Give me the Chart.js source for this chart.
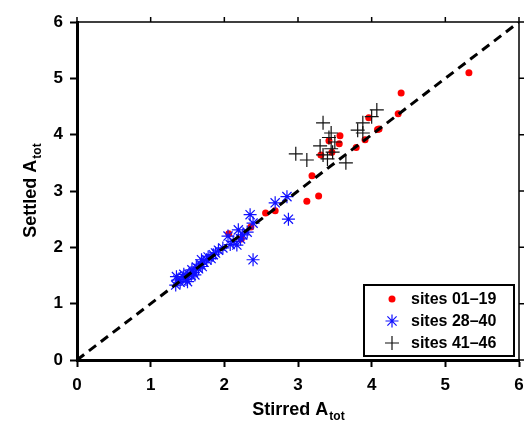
<!DOCTYPE html>
<html>
<head>
<meta charset="utf-8">
<script src="https://cdn.jsdelivr.net/npm/chart.js@4"></script>
<style>
	html, body { margin: 0; padding: 0; background: #fff; }
	#wrap { width: 529px; height: 428px; }
</style>
</head>
<body>
<div id="wrap"><canvas id="scatter"></canvas></div>
<script>
// values (stirred, settled)
const sites01to19 = [
	[5.32, 5.10], [4.40, 4.74], [4.36, 4.37], [4.08, 4.09], [4.10, 4.10],
	[3.91, 3.91], [3.96, 4.30], [3.79, 3.77], [3.57, 3.98], [3.56, 3.84],
	[3.42, 3.89], [3.46, 3.69], [3.31, 3.64], [3.19, 3.27], [3.28, 2.91],
	[3.12, 2.82], [2.56, 2.61], [2.69, 2.65], [2.06, 2.24], [2.36, 2.36],
	[2.23, 2.15]
];
const sites28to40 = [
	[1.34, 1.33], [1.37, 1.42], [1.35, 1.48], [1.40, 1.38], [1.44, 1.47],
	[1.48, 1.43], [1.50, 1.39], [1.52, 1.52], [1.56, 1.60], [1.58, 1.55],
	[1.60, 1.51], [1.62, 1.65], [1.65, 1.62], [1.68, 1.70], [1.69, 1.78],
	[1.72, 1.74], [1.76, 1.78], [1.78, 1.83], [1.82, 1.80], [1.85, 1.87],
	[1.88, 1.90], [1.92, 1.95], [1.98, 1.99], [2.05, 2.20], [2.08, 2.05],
	[2.12, 2.10], [2.17, 2.04], [2.19, 2.31], [2.22, 2.15], [2.25, 2.22],
	[2.31, 2.27], [2.35, 2.58], [2.39, 2.43], [2.39, 1.78], [2.69, 2.79],
	[2.85, 2.90], [2.87, 2.50], [1.55, 1.50], [1.45, 1.52], [1.70, 1.66]
];
const sites41to46 = [
	[3.34, 4.21], [3.45, 4.03], [3.30, 3.80], [2.97, 3.66], [3.12, 3.55],
	[3.34, 3.64], [3.47, 3.69], [3.40, 3.57], [3.65, 3.50], [3.50, 3.87],
	[3.42, 3.95], [3.81, 4.08], [3.88, 4.03], [3.88, 4.21], [4.00, 4.32],
	[4.07, 4.44], [3.45, 3.75]
];
const oneToOne = [[0, 0], [6, 6]];
const legendLabels = ['sites 01\u201319', 'sites 28\u201340', 'sites 41\u201346'];
const tickValues = [0, 1, 2, 3, 4, 5, 6];

const FONT = '"Liberation Sans", Arial, Helvetica, sans-serif';
const toXY = arr => arr.map(p => ({ x: p[0], y: p[1] }));

// top/right frame, axis titles with subscript, boxed legend
const extras = {
	id: 'extras',
	afterDraw(chart) {
		const { ctx, chartArea: a, scales } = chart;
		ctx.save();
		ctx.strokeStyle = '#000';
		ctx.lineWidth = 1.5;
		ctx.beginPath();
		ctx.moveTo(a.left, a.top); ctx.lineTo(a.right, a.top);
		ctx.moveTo(a.right, a.top); ctx.lineTo(a.right, a.bottom);
		tickValues.forEach(v => {
			const px = scales.x.getPixelForValue(v);
			ctx.moveTo(px, a.top); ctx.lineTo(px, a.top - 5);
			const py = scales.y.getPixelForValue(v);
			ctx.moveTo(a.right, py); ctx.lineTo(a.right + 5, py);
		});
		ctx.stroke();

		// axis titles
		const drawTitle = (main, sub) => {
			ctx.font = 'bold 18px ' + FONT;
			const w1 = ctx.measureText(main).width;
			ctx.font = 'bold 12px ' + FONT;
			const w2 = ctx.measureText(sub).width;
			const x0 = -(w1 + w2) / 2;
			ctx.fillStyle = '#000';
			ctx.textBaseline = 'alphabetic';
			ctx.textAlign = 'left';
			ctx.font = 'bold 18px ' + FONT;
			ctx.fillText(main, x0, 0);
			ctx.font = 'bold 12px ' + FONT;
			ctx.fillText(sub, x0 + w1 + 1, 5);
		};
		ctx.save();
		ctx.translate((a.left + a.right) / 2, 415);
		drawTitle('Stirred A', 'tot');
		ctx.restore();
		ctx.save();
		ctx.translate(36, (a.top + a.bottom) / 2);
		ctx.rotate(-Math.PI / 2);
		drawTitle('Settled A', 'tot');
		ctx.restore();

		// legend box
		const bx = 364, by = 285, bw = 150, bh = 71;
		ctx.fillStyle = '#fff';
		ctx.fillRect(bx, by, bw, bh);
		ctx.lineWidth = 2;
		ctx.strokeRect(bx, by, bw, bh);
		const rows = [299, 321, 343];
		chart.data.datasets.slice(0, 3).forEach((ds, i) => {
			const cx = 392, cy = rows[i];
			ctx.save();
			ctx.lineWidth = ds.borderWidth;
			ctx.strokeStyle = ds.borderColor;
			ctx.fillStyle = ds.backgroundColor;
			Chart.helpers.drawPoint(ctx, {
				pointStyle: ds.pointStyle,
				radius: ds.pointRadius,
				borderWidth: ds.borderWidth
			}, cx, cy);
			ctx.restore();
			ctx.fillStyle = '#000';
			ctx.font = 'bold 16px ' + FONT;
			ctx.textBaseline = 'middle';
			ctx.textAlign = 'left';
			ctx.fillText(legendLabels[i], 411, cy + 1);
		});
		ctx.restore();
	}
};

const axisCommon = {
	type: 'linear',
	min: 0,
	max: 6,
	border: { display: true, color: '#000', width: 3 },
	grid: {
		display: true,
		drawOnChartArea: false,
		drawTicks: true,
		tickLength: 7,
		tickWidth: 2,
		tickColor: '#000'
	},
	ticks: {
		stepSize: 1,
		color: '#000',
		font: { family: FONT, size: 17, weight: 'bold' }
	}
};

new Chart(document.getElementById('scatter'), {
	type: 'scatter',
	data: {
		datasets: [
			{
				label: legendLabels[0],
				data: toXY(sites01to19),
				pointStyle: 'circle',
				pointRadius: 3.5,
				borderWidth: 0,
				borderColor: '#ff0000',
				backgroundColor: '#ff0000',
				order: 3
			},
			{
				label: legendLabels[1],
				data: toXY(sites28to40),
				pointStyle: 'star',
				pointRadius: 6.5,
				borderWidth: 1.2,
				borderColor: '#1010ff',
				backgroundColor: '#1010ff',
				order: 2
			},
			{
				label: legendLabels[2],
				data: toXY(sites41to46),
				pointStyle: 'cross',
				pointRadius: 7,
				borderWidth: 1.2,
				borderColor: '#111',
				backgroundColor: '#111',
				order: 1
			},
			{
				label: '1:1',
				type: 'line',
				data: toXY(oneToOne),
				borderColor: '#000',
				borderWidth: 3,
				borderDash: [9, 6],
				pointRadius: 0,
				fill: false,
				order: 0
			}
		]
	},
	options: {
		responsive: true,
		maintainAspectRatio: false,
		animation: false,
		events: [],
		layout: { padding: { top: 22, right: 10, left: 0, bottom: 0 } },
		plugins: {
			legend: { display: false },
			tooltip: { enabled: false }
		},
		scales: {
			x: {
				...axisCommon,
				ticks: { ...axisCommon.ticks, padding: 8 },
				afterFit: s => { s.height = 68; s.paddingLeft = 0; s.paddingRight = 0; }
			},
			y: {
				...axisCommon,
				ticks: { ...axisCommon.ticks, padding: 7 },
				afterFit: s => { s.width = 77; s.paddingTop = 0; s.paddingBottom = 0; }
			}
		}
	},
	plugins: [extras]
});
</script>
</body>
</html>
